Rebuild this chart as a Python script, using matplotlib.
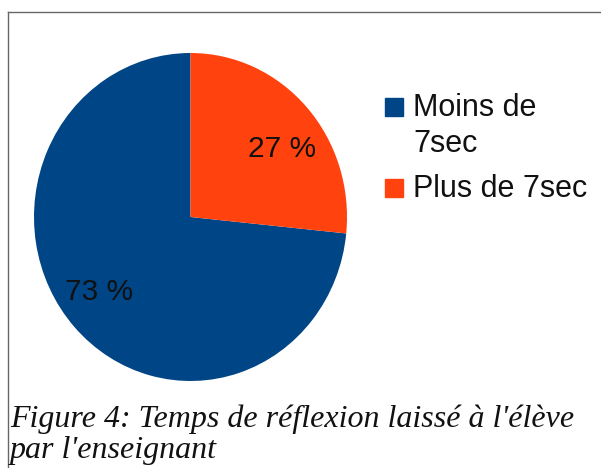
import matplotlib
matplotlib.use("Agg")
import matplotlib.pyplot as plt
from matplotlib.lines import Line2D
from matplotlib.patches import Rectangle
import numpy as np

# data
categories = ["Moins de\n7sec", "Plus de 7sec"]
shares = [73.4, 26.6]
colors = ["#004586", "#ff420e"]
caption = "Figure 4: Temps de réflexion laissé à l'élève\npar l'enseignant"

W, H = 601, 468
fig = plt.figure(figsize=(W / 100, H / 100), dpi=100)

# pie, slightly wider than tall like the original
ax = fig.add_axes([34 / W, 1 - 381 / H, 313 / W, 328 / H])
wedges, texts, autotexts = ax.pie(
    shares, colors=colors, startangle=90, autopct="%.0f %%", pctdistance=0.73,
    textprops=dict(family="Liberation Sans", fontsize=21.5, color="#111111"),
    wedgeprops=dict(linewidth=0),
)
ax.set_aspect("auto")
ax.set_xlim(-1, 1)
ax.set_ylim(-1, 1)

# labels sit a bit clockwise of the wedge middle in the original
rot = np.deg2rad(-5.5)
for t in autotexts:
    x, y = t.get_position()
    t.set_position((x * np.cos(rot) - y * np.sin(rot),
                    x * np.sin(rot) + y * np.cos(rot) - 0.02))

# legend drawn by hand so the square lines up with the first text line
baseline = 116
for label, col in zip(categories, colors):
    fig.patches.append(Rectangle((385 / W, 1 - baseline / H), 18 / W, 18 / H,
                                 transform=fig.transFigure, color=col))
    for line in label.split("\n"):
        fig.text(413 / W, 1 - baseline / H, line, family="Liberation Sans",
                 fontsize=22, color="#111111", va="baseline", ha="left")
        baseline += 36
    baseline += 9  # extra gap between entries

# frame around the chart (cropped on the right and bottom)
fig.add_artist(Line2D([8 / W, 1], [1 - 12 / H, 1 - 12 / H], color="#666666", lw=1.0))
fig.add_artist(Line2D([8 / W, 8 / W], [0, 1 - 12 / H], color="#666666", lw=1.0))

cap_base = 427
for line in caption.split("\n"):
    fig.text(10 / W, 1 - cap_base / H, line, family="Liberation Serif", style="italic",
             fontsize=23, color="#111111", va="baseline", ha="left")
    cap_base += 31

fig.savefig("out.png", dpi=100)
